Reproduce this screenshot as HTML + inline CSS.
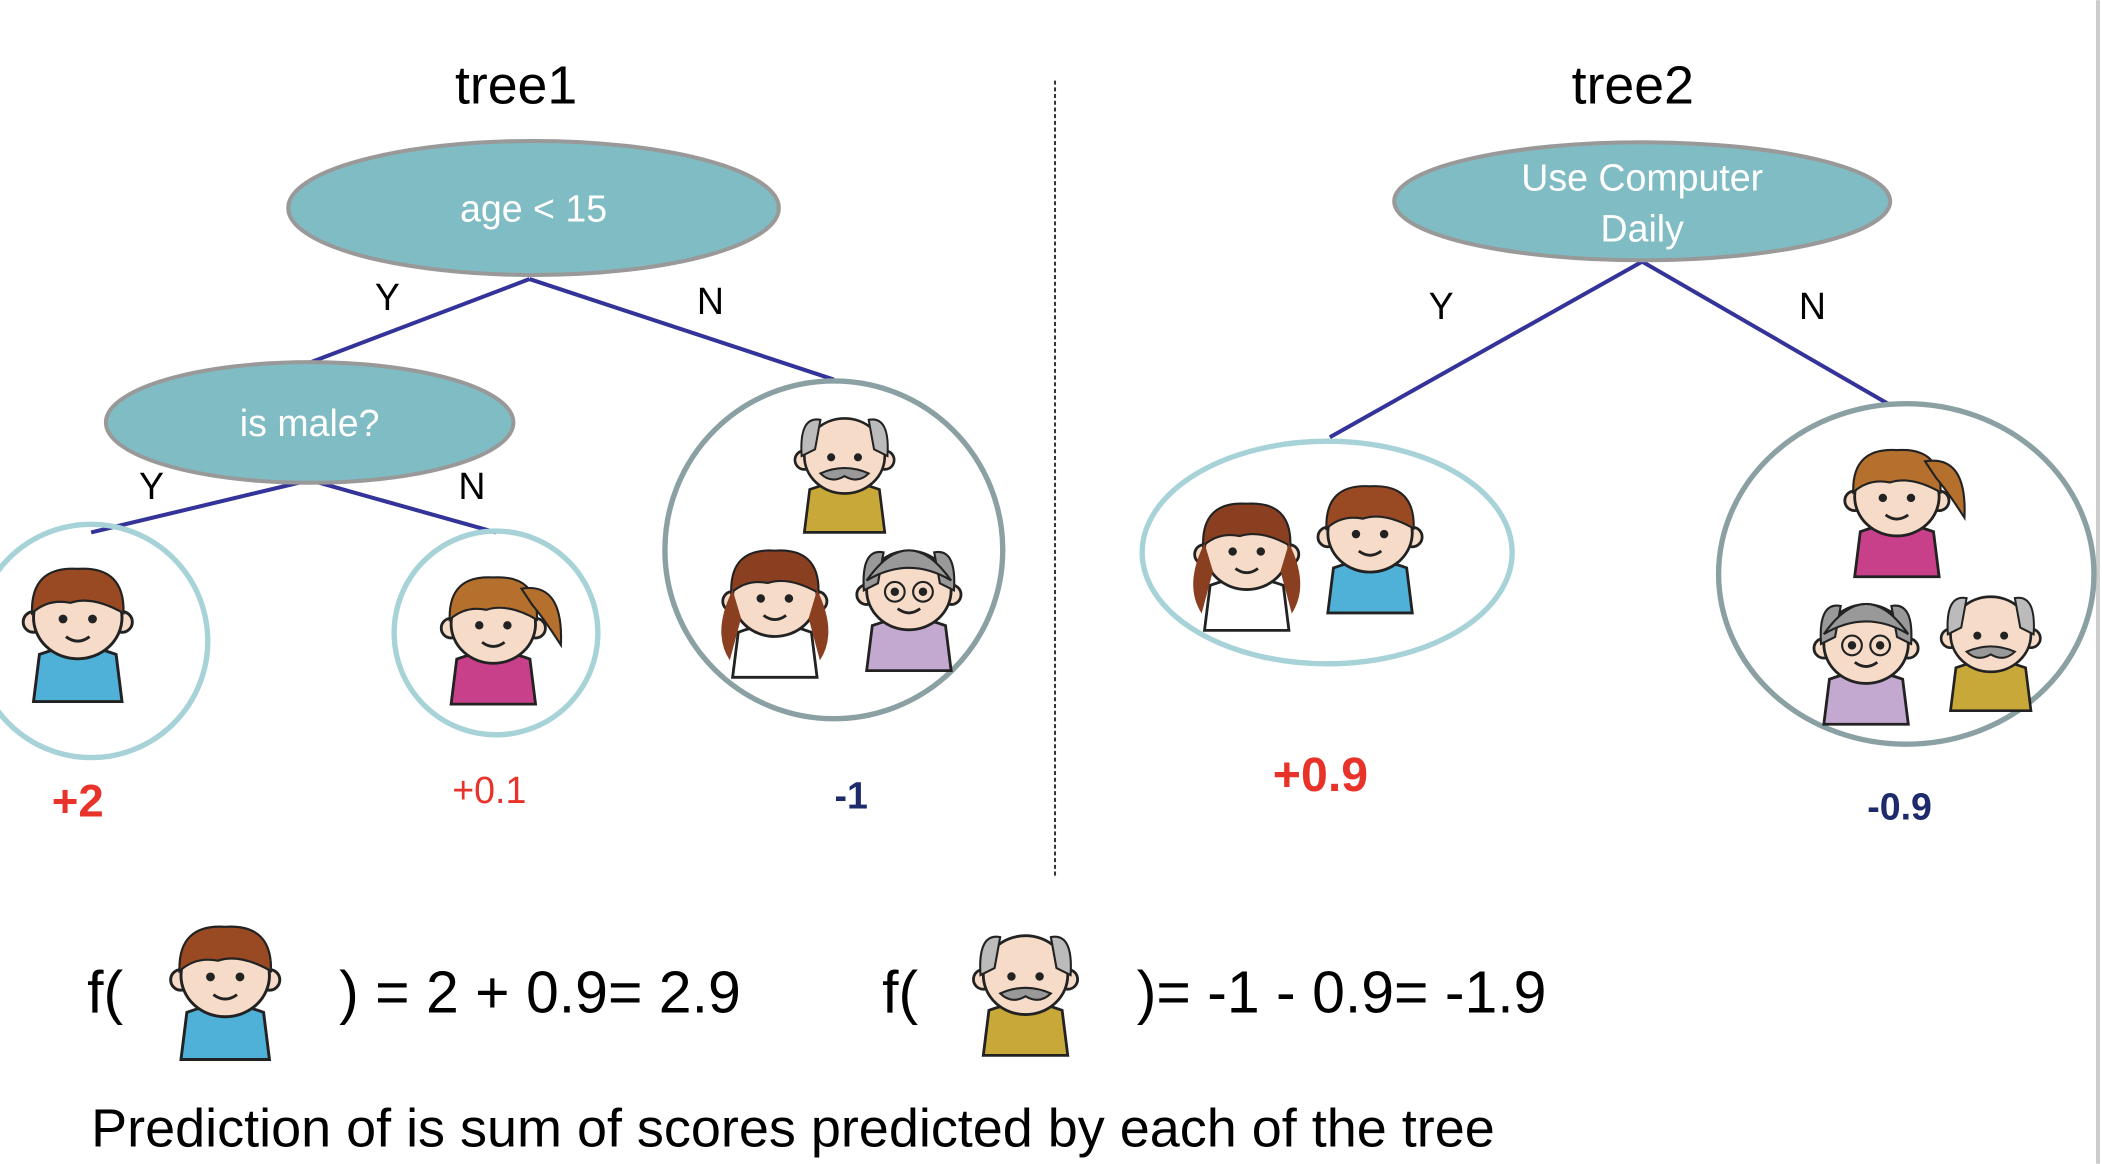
<!DOCTYPE html>
<html><head><meta charset="utf-8"><style>
html,body{margin:0;padding:0;background:#fff;}
svg{display:block;}
text{font-family:"Liberation Sans",Arial,sans-serif;}
</style></head><body>
<svg id="s" width="2102" height="1164" viewBox="0 0 1568 868" xmlns="http://www.w3.org/2000/svg">
<rect width="1568" height="868" fill="#fff"/>
<line x1="1565" y1="0" x2="1565" y2="868" stroke="#ccc" stroke-width="3"/>
<text x="385" y="77" font-size="40" text-anchor="middle">tree1</text>
<text x="1218" y="77" font-size="40" text-anchor="middle">tree2</text>
<line x1="787" y1="60" x2="787" y2="655" stroke="#333" stroke-width="1.5" stroke-dasharray="3,2"/>
<g stroke="#333399" stroke-width="3">
<line x1="395" y1="208" x2="232" y2="270"/><line x1="395" y1="208" x2="622" y2="283"/>
<line x1="231" y1="358" x2="68" y2="397"/><line x1="231" y1="358" x2="370" y2="397"/>
</g>
<g stroke="#333399" stroke-width="3">
<line x1="1225" y1="195" x2="992" y2="326"/><line x1="1225" y1="195" x2="1410" y2="302"/>
</g>
<g><ellipse cx="398" cy="155" rx="183" ry="50" fill="#80bcc3" stroke="#999" stroke-width="3"/>
<text x="398" y="165" font-size="28" fill="#fff" text-anchor="middle">age &lt; 15</text></g>
<g><ellipse cx="231" cy="315" rx="152" ry="45" fill="#80bcc3" stroke="#999" stroke-width="3"/>
<text x="231" y="325" font-size="28" fill="#fff" text-anchor="middle">is male?</text></g>
<g><ellipse cx="1225" cy="150" rx="185" ry="44" fill="#80bcc3" stroke="#999" stroke-width="3"/>
<text x="1225" y="142" font-size="28" fill="#fff" text-anchor="middle">Use Computer</text>
<text x="1225" y="180" font-size="28" fill="#fff" text-anchor="middle">Daily</text></g>
<g font-size="28">
<text x="289" y="231" text-anchor="middle">Y</text><text x="530" y="234" text-anchor="middle">N</text>
<text x="113" y="372" text-anchor="middle">Y</text><text x="352" y="372" text-anchor="middle">N</text>
<text x="1075" y="238" text-anchor="middle">Y</text><text x="1352" y="238" text-anchor="middle">N</text>
</g>
<g fill="none" stroke-width="4">
<circle cx="68" cy="478" r="87" stroke="#a6d2d8"/>
<circle cx="370" cy="472" r="76" stroke="#a6d2d8"/>
<circle cx="622" cy="410" r="126" stroke="#8aa0a2"/>
<ellipse cx="990" cy="412" rx="138" ry="83" stroke="#a6d2d8"/>
<ellipse cx="1422" cy="428" rx="140" ry="127" stroke="#8aa0a2"/>
</g>
<g font-weight="bold">
<text x="58" y="609" font-size="34" fill="#e8332a" text-anchor="middle">+2</text>
<text x="365" y="599" font-size="28" fill="#e8332a" font-weight="normal" text-anchor="middle">+0.1</text>
<text x="635" y="603" font-size="28" fill="#1d2a6b" text-anchor="middle">-1</text>
<text x="985" y="590" font-size="36" fill="#e8332a" text-anchor="middle">+0.9</text>
<text x="1417" y="611" font-size="28" fill="#1d2a6b" text-anchor="middle">-0.9</text>
</g>
<g font-size="44">
<text x="65" y="755">f(</text><text x="253" y="755">) = 2 + 0.9= 2.9</text>
<text x="658" y="755">f(</text><text x="848" y="755">)= -1 - 0.9= -1.9</text>
</g>
<text x="68" y="855" font-size="40" textLength="1047" lengthAdjust="spacingAndGlyphs">Prediction of is sum of scores predicted by each of the tree</text>
<g id="faces"></g>
</svg>
<script>
const NS="http://www.w3.org/2000/svg";
function el(p,t,a){const e=document.createElementNS(NS,t);for(const k in a)e.setAttribute(k,a[k]);p.appendChild(e);return e;}
const people=[["boy",58,455,1.1],["girl",368,460,1.05],["oldman",630,335,1.0],["girl2",578,440,1.05],["oldwoman",678,435,1.05],
["girl2",930,405,1.05],["boy",1022,392,1.05],["girl",1415,365,1.05],["oldwoman",1392,475,1.05],["oldman",1485,468,1.0],
["boy",168,722,1.1],["oldman",765,722,1.05]];
const cfg={boy:["#9a4a22","#4fb0d8"],girl:["#b5702e","#c8408a"],oldman:["#bbb","#c8a838"],oldwoman:["#999","#c3a9cf"],girl2:["#8a4020","#fff"]};
const root=document.getElementById('faces');
people.forEach(p=>{
 const [type,x,y,s]=p;const [hair,shirt]=cfg[type];
 const g=el(root,'g',{transform:`translate(${x},${y}) scale(${s})`});
 
 
 el(g,'path',{d:'M-30 62 L-26 30 Q0 20 26 30 L30 62 Z',fill:shirt,stroke:'#222','stroke-width':2});
 el(g,'circle',{cx:-30,cy:8,r:7,fill:'#f6dcc8',stroke:'#222','stroke-width':2});
 el(g,'circle',{cx:30,cy:8,r:7,fill:'#f6dcc8',stroke:'#222','stroke-width':2});
 el(g,'ellipse',{cx:0,cy:5,rx:30,ry:28,fill:'#f6dcc8',stroke:'#222','stroke-width':2});
 if(type==='oldman'||type==='oldwoman'){
  el(g,'path',{d:'M-32 5 Q-34 -25 -18 -22 L-22 0 Z',fill:hair,stroke:'#222','stroke-width':1.5});
  el(g,'path',{d:'M32 5 Q34 -25 18 -22 L22 0 Z',fill:hair,stroke:'#222','stroke-width':1.5});
  if(type==='oldwoman')el(g,'path',{d:'M-30 -2 Q0 -45 30 -2 Q0 -20 -30 -2Z',fill:hair,stroke:'#222','stroke-width':1.5});
  if(type==='oldman')el(g,'path',{d:'M-18 18 Q0 10 18 18 Q10 26 0 20 Q-10 26 -18 18Z',fill:'#999',stroke:'#222','stroke-width':1.5});
  else{el(g,'circle',{cx:-10,cy:6,r:7,fill:'none',stroke:'#222','stroke-width':1.5});el(g,'circle',{cx:10,cy:6,r:7,fill:'none',stroke:'#222','stroke-width':1.5});}
 } else {
  el(g,'path',{d:'M-31 2 Q-32 -30 0 -28 Q32 -30 31 2 Q10 -10 -5 -5 Q-20 -8 -31 2Z',fill:hair,stroke:'#222','stroke-width':1.5});
  if(type==='girl')el(g,'path',{d:'M20 -20 Q50 -25 48 20 Q35 0 28 -8Z',fill:hair,stroke:'#222','stroke-width':1.5});
  if(type==='girl2'){el(g,'path',{d:'M-30 0 Q-45 30 -32 50 L-24 20Z',fill:hair});el(g,'path',{d:'M30 0 Q45 30 32 50 L24 20Z',fill:hair});}
 }
 el(g,'circle',{cx:-10,cy:6,r:3,fill:'#222'});el(g,'circle',{cx:10,cy:6,r:3,fill:'#222'});
 if(type!=='oldman')el(g,'path',{d:'M-8 18 Q0 24 8 18',fill:'none',stroke:'#222','stroke-width':2});
});
</script>
</body></html>
